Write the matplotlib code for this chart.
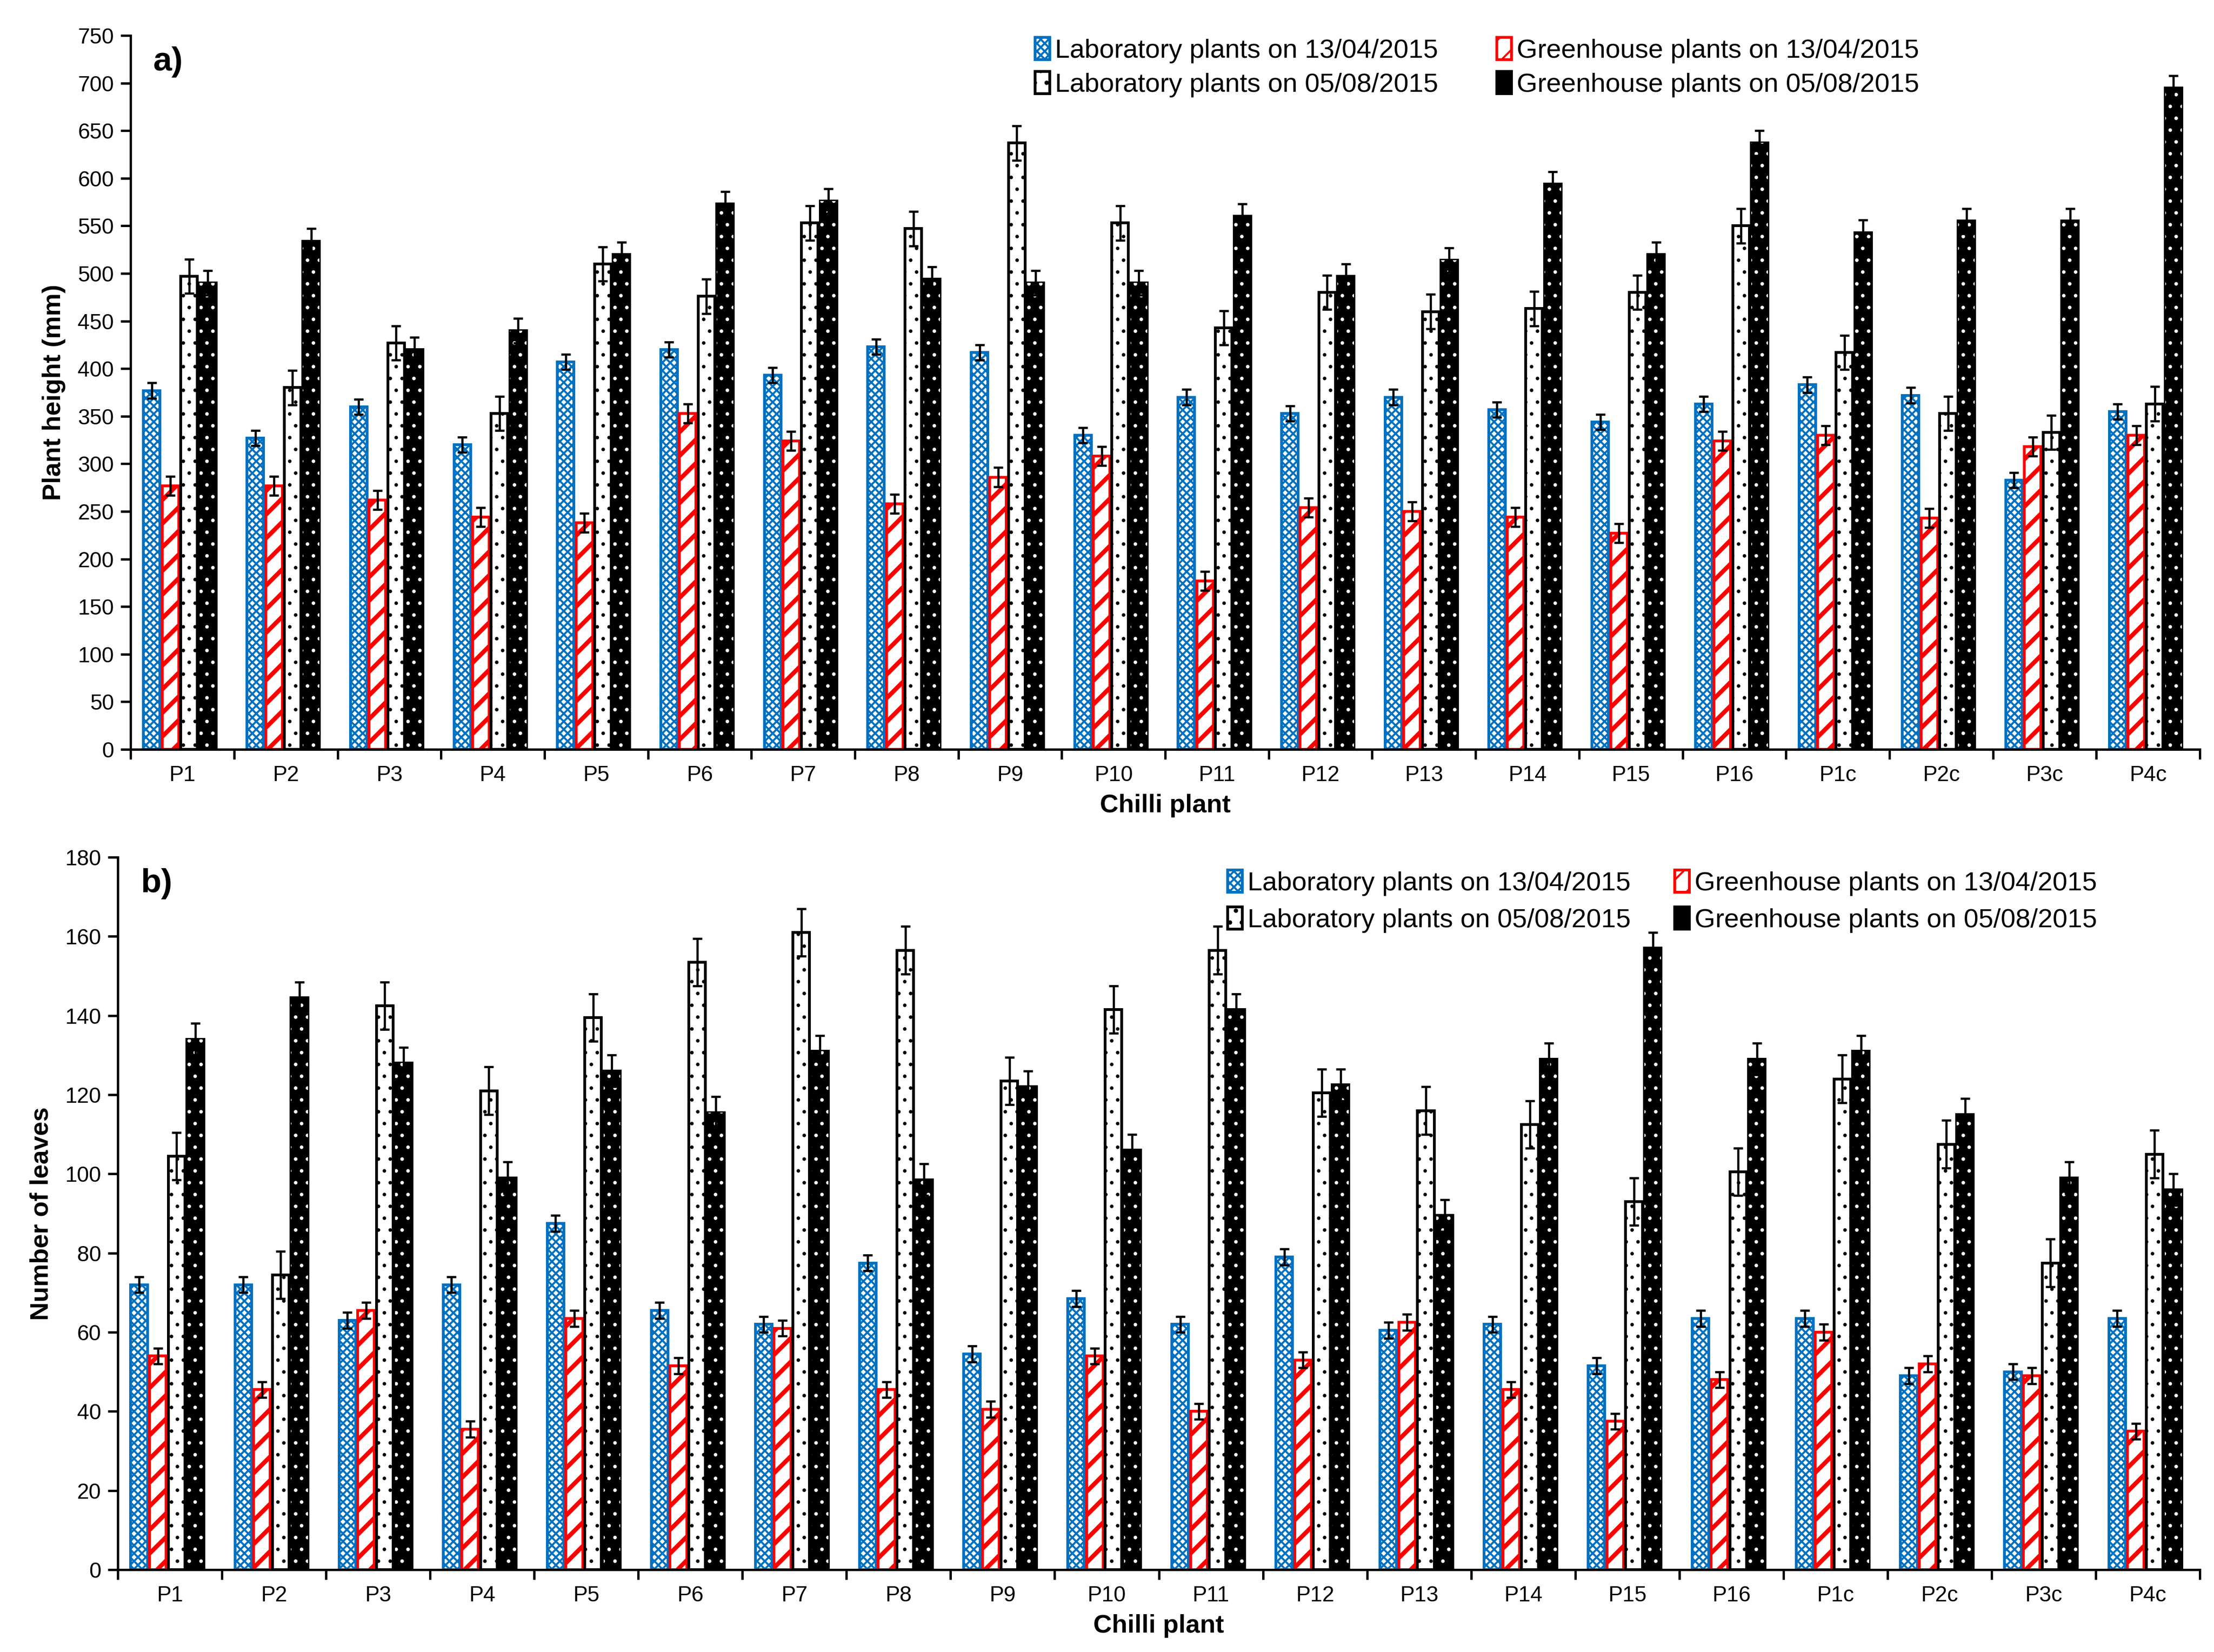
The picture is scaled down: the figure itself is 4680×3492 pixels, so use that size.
import numpy as np
import matplotlib
matplotlib.use("Agg")
import matplotlib.pyplot as plt

plt.rcParams["font.family"] = ["Liberation Sans", "DejaVu Sans"]

plants = ["P1", "P2", "P3", "P4", "P5", "P6", "P7", "P8", "P9", "P10",
          "P11", "P12", "P13", "P14", "P15", "P16", "P1c", "P2c", "P3c", "P4c"]
series_names = ["Laboratory plants on 13/04/2015", "Greenhouse plants on 13/04/2015",
                "Laboratory plants on 05/08/2015", "Greenhouse plants on 05/08/2015"]

# a) plant height (mm)
height_lab_13 = [377, 327, 360, 320, 407, 420, 393, 423, 417, 330,
                 370, 353, 370, 357, 344, 363, 383, 372, 283, 355]
height_gh_13 = [277, 277, 262, 244, 238, 353, 324, 258, 286, 308,
                177, 254, 250, 244, 227, 324, 330, 243, 318, 330]
height_lab_05 = [497, 380, 427, 353, 510, 476, 553, 547, 637, 553,
                 443, 480, 460, 463, 480, 550, 417, 353, 333, 363]
height_gh_05 = [490, 534, 420, 440, 520, 573, 576, 494, 490, 490,
                560, 497, 514, 594, 520, 637, 543, 555, 555, 695]
height_err = [8, 10, 18, 13]

# b) number of leaves
leaves_lab_13 = [72, 72, 63, 72, 87.5, 65.5, 62, 77.5, 54.5, 68.5,
                 62, 79, 60.5, 62, 51.5, 63.5, 63.5, 49, 50, 63.5]
leaves_gh_13 = [54, 45.5, 65.5, 35.5, 63.5, 51.5, 61, 45.5, 40.5, 54,
                40, 53, 62.5, 45.5, 37.5, 48, 60, 52, 49, 35]
leaves_lab_05 = [104.5, 74.5, 142.5, 121, 139.5, 153.5, 161, 156.5, 123.5, 141.5,
                 156.5, 120.5, 116, 112.5, 93, 100.5, 124, 107.5, 77.5, 105]
leaves_gh_05 = [134, 144.5, 128, 99, 126, 115.5, 131, 98.5, 122, 106,
                141.5, 122.5, 89.5, 129, 157, 129, 131, 115, 99, 96]
leaves_err = [2, 2, 6, 4]

blue = "#0070C0"
red = "#FF0000"
x = np.arange(len(plants))
width = 0.16
offsets = [-0.295, -0.115, 0.065, 0.245]
ekw = dict(ecolor="black", elinewidth=1.1, capthick=1.1)


def hatched_bars(ax, xpos, vals, hatch_lw, **kw):
    # hatch line width is taken when the patch is made
    with plt.rc_context({"hatch.linewidth": hatch_lw}):
        bars = ax.bar(xpos, vals, width, **kw)
    for p in bars.patches:
        if hasattr(p, "set_hatch_linewidth"):
            p.set_hatch_linewidth(hatch_lw)
    return bars


def draw_panel(ax, data, errs, ymax, ystep, ylabel, tag, legend_anchor,
               colspace, rowspace):
    handles = []
    # lab 13/04 - blue checker
    h = hatched_bars(ax, x + offsets[0], data[0], 1.0, facecolor="white",
                     edgecolor=blue, hatch="xxxxxx", linewidth=1.4,
                     yerr=errs[0], capsize=2.5, error_kw=ekw)
    handles.append(h)
    # greenhouse 13/04 - red diagonals
    h = hatched_bars(ax, x + offsets[1], data[1], 2.2, facecolor="white",
                     edgecolor=red, hatch="//", linewidth=1.4,
                     yerr=errs[1], capsize=2.5, error_kw=ekw)
    handles.append(h)
    # lab 05/08 - white with dots
    h = hatched_bars(ax, x + offsets[2], data[2], 0.6, facecolor="white",
                     edgecolor="black", hatch="..", linewidth=1.4,
                     yerr=errs[2], capsize=2.5, error_kw=ekw)
    handles.append(h)
    # greenhouse 05/08 - black with white dots
    h = ax.bar(x + offsets[3], data[3], width, facecolor="black", edgecolor="black",
               linewidth=1.4, yerr=errs[3], capsize=2.5, error_kw=ekw)
    hatched_bars(ax, x + offsets[3], data[3], 0.6, facecolor="none",
                 edgecolor="white", hatch="..", linewidth=0)
    handles.append(h)

    ax.set_xlim(-0.5, len(plants) - 0.5)
    ax.set_ylim(0, ymax)
    ax.set_yticks(np.arange(0, ymax + 1, ystep))
    ax.set_xticks(x)
    ax.set_xticklabels(plants)
    ax.set_xticks(np.arange(-0.5, len(plants)), minor=True)
    ax.tick_params(axis="x", which="major", length=0, labelsize=11, pad=8)
    ax.tick_params(axis="x", which="minor", length=5, width=1.2, direction="out")
    ax.tick_params(axis="y", length=5, width=1.2, labelsize=11, direction="out")
    for s in ["top", "right"]:
        ax.spines[s].set_visible(False)
    for s in ["left", "bottom"]:
        ax.spines[s].set_linewidth(1.2)
    ax.set_xlabel("Chilli plant", fontsize=13, fontweight="bold", labelpad=4)
    ax.set_ylabel(ylabel, fontsize=13, fontweight="bold", labelpad=6)
    ax.text(0.011, 0.985, tag, transform=ax.transAxes, fontsize=17,
            fontweight="bold", va="top", ha="left")
    order = [handles[0], handles[2], handles[1], handles[3]]
    labels = [series_names[0], series_names[2], series_names[1], series_names[3]]
    ax.legend(order, labels, ncol=2, frameon=False, fontsize=13.5,
              loc="upper left", bbox_to_anchor=legend_anchor,
              handlelength=0.55, handleheight=0.9, handletextpad=0.2,
              columnspacing=colspace, labelspacing=rowspace, borderaxespad=0)


fig = plt.figure(figsize=(15.6, 11.64), dpi=300)
ax_a = fig.add_axes([0.059, 0.5464, 0.9346, 0.4321])
ax_b = fig.add_axes([0.0532, 0.0498, 0.9404, 0.4313])

draw_panel(ax_a, [height_lab_13, height_gh_13, height_lab_05, height_gh_05],
           height_err, 750, 50, "Plant height (mm)", "a)", (0.432, 1.012),
           2.2, 0.3)
draw_panel(ax_b, [leaves_lab_13, leaves_gh_13, leaves_lab_05, leaves_gh_05],
           leaves_err, 180, 20, "Number of leaves", "b)", (0.528, 0.997),
           1.65, 0.42)

fig.savefig("out.png", dpi=300)
